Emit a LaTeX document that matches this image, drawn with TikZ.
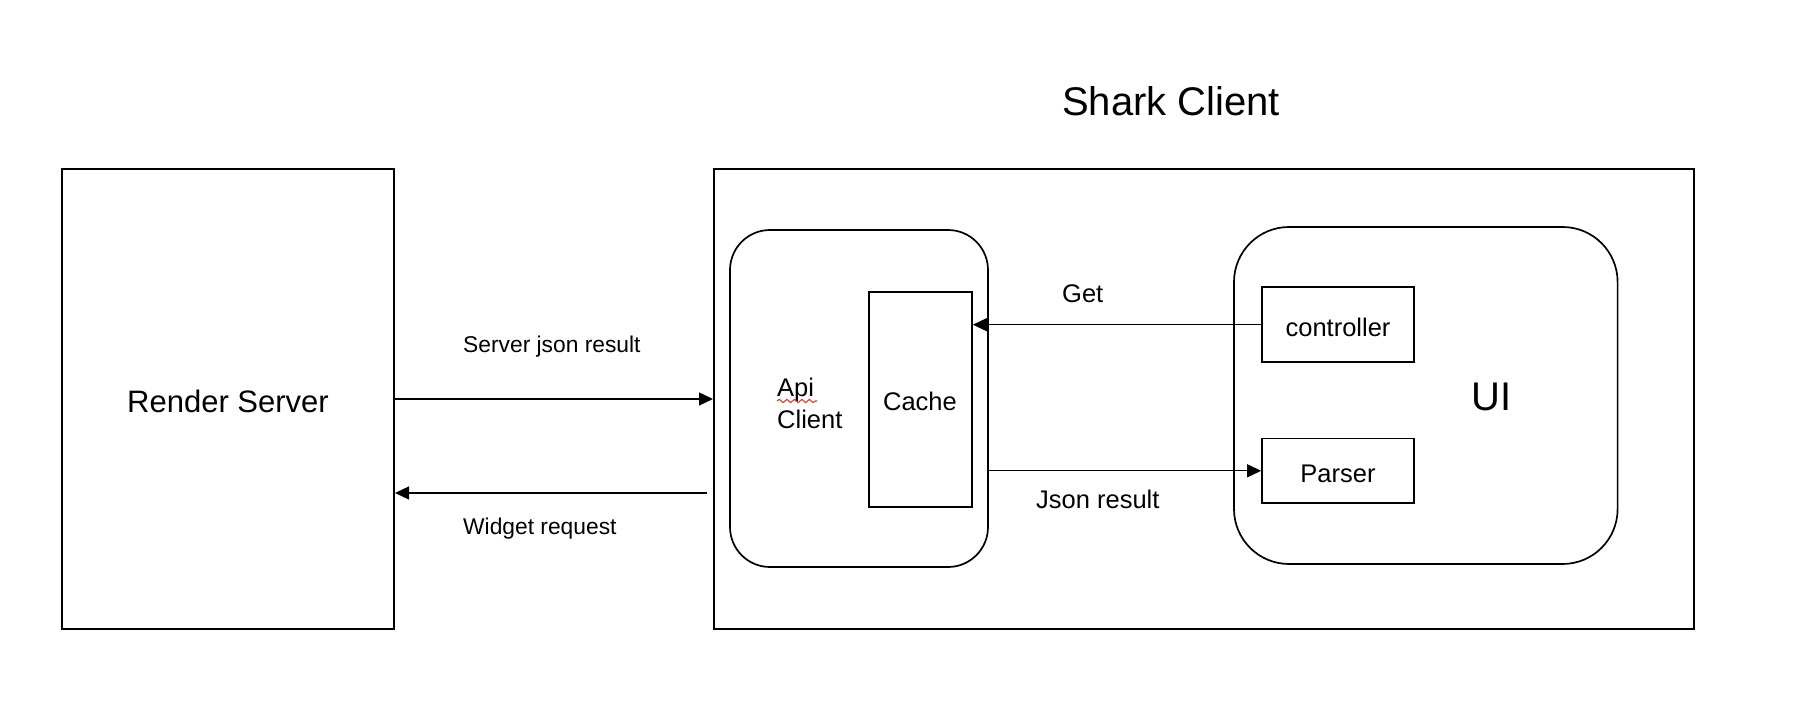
\documentclass[tikz,border=0pt]{standalone}
\usepackage{fontspec}
\setmainfont{Liberation Sans}
\usetikzlibrary{arrows.meta,decorations.pathmorphing}
\definecolor{spell}{RGB}{212,62,40}
\begin{document}
\begin{tikzpicture}[x=1pt,y=-1pt,
  box/.style={draw=black, line width=2, inner sep=0, minimum width=#1},
  rbox/.style={draw=black, line width=1.7, inner sep=0},
  ibox/.style={draw=black, line width=1.7, inner sep=0},
  arr/.style={line width=1.3, -{Triangle[length=14,width=13]}},
  big/.style={font=\fontsize{31}{37}\selectfont, inner sep=0, anchor=base},
  huge/.style={font=\fontsize{40}{48}\selectfont, inner sep=0, anchor=base west},
  lbl/.style={font=\fontsize{25.5}{31}\selectfont, inner sep=0},
  small/.style={font=\fontsize{22.8}{28}\selectfont, inner sep=0, anchor=base west}]
\useasboundingbox (0,0) rectangle (1800,720);
\fill[white] (0,0) rectangle (1800,720);
% boxes
\node[box=332, minimum height=460] (rs) at (228,399) {};
\node[box=980, minimum height=460] (sc) at (1204,399) {};
\node[rbox, rounded corners=40, minimum width=258, minimum height=337] (api) at (859,398.5) {};
\node[ibox, minimum width=103, minimum height=215] (cache) at (920.5,399.5) {};
\node[rbox, rounded corners=55, minimum width=383.6, minimum height=337] (ui) at (1425.8,395.5) {};
\node[ibox, minimum width=152, minimum height=75] (ctrl) at (1338,324.7) {};
\node[ibox, minimum width=152, minimum height=64.5] (parser) at (1338,470.8) {};
% texts
\node[big] (rst) at (228,412) {Render Server};
\node[huge] (sct) at (1062,115.6) {Shark Client};
\node[huge] (uit) at (1471,410.5) {UI};
\node[lbl, anchor=base west] (api1) at (777,396.7) {Api};
\node[lbl, anchor=base west] (api2) at (777,428.3) {Client};
\node[lbl, anchor=base] (cachet) at (920,410) {Cache};
\node[lbl, anchor=base] (ctrlt) at (1338,336) {controller};
\node[lbl, anchor=base] (parsert) at (1338,482.6) {Parser};
\node[lbl, anchor=base west] (gett) at (1062,302.8) {Get};
\node[lbl, anchor=base west] (jsont) at (1036,508) {Json result};
\node[small] (sjr) at (463,352) {Server json result};
\node[small] (wr) at (463,534.5) {Widget request};
% spell-check squiggle
\draw[spell, line width=1.1, decorate, decoration={snake, amplitude=1.6, segment length=7.5}] (777,401) -- (817,401);
% connectors
\coordinate (wrs) at (707,493);
\draw[arr] (rs.east) -- (sc.west);
\draw[arr] (wrs) -- (wrs -| rs.east);
\draw[arr] (ctrl.west) -- (ctrl.west -| cache.east);
\draw[arr] (api.east |- parser.west) -- (parser.west);
\end{tikzpicture}
\end{document}
